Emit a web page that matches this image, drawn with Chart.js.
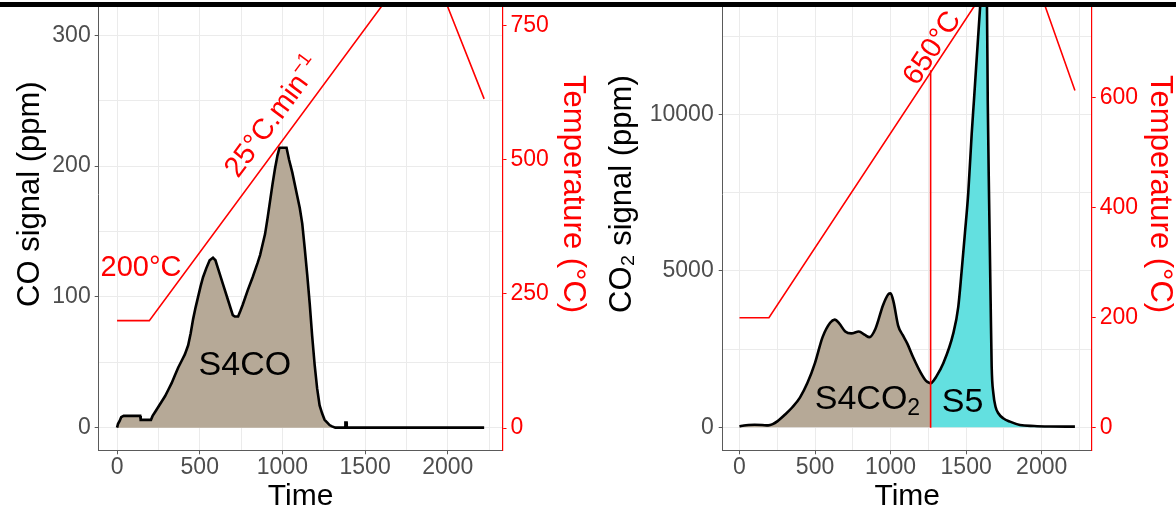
<!DOCTYPE html>
<html lang="en">
<head>
  <meta charset="UTF-8">
  <title>CO and CO2 signal vs time</title>
  <script src="https://cdn.jsdelivr.net/npm/chart.js"></script>
  <style>
    body {
      margin: 0;
      background: #fff;
      width: 1176px;
      height: 509px;
      overflow: hidden;
      position: relative;
    }
    canvas {
      position: absolute;
      top: -70px;
    }
    #left { left: 0; }
    #right { left: 590px; }
    .bar {
      position: absolute;
      left: 0;
      width: 1176px;
      z-index: 2;
    }
  </style>
</head>
<body>
  <canvas id="left" width="590" height="579"></canvas>
  <canvas id="right" width="586" height="579"></canvas>
  <div class="bar" style="top:0;height:2px;background:#fff"></div>
  <div class="bar" style="top:2px;height:5px;background:#000"></div>

  <script>
    // CO signal (ppm), left panel
    const coTime = [0, 6, 15, 25, 40, 140, 143, 205, 215, 230, 250, 270, 290, 310, 330,
      350, 370, 390, 410, 430, 445, 460, 475, 490, 505, 520, 540, 560, 580, 595, 610,
      640, 670, 700, 712, 732, 745, 760, 790, 820, 850, 865, 880, 895, 910, 925, 940,
      955, 970, 982, 1025, 1040, 1060, 1090, 1105, 1120, 1135, 1150, 1165, 1180, 1195,
      1210, 1225, 1240, 1255, 1270, 1285, 1300, 1320, 1380, 1381, 1388, 1389, 2220];
    const coPpm = [0, 3, 5, 8, 9, 9, 6, 6, 9, 12, 16, 20, 24, 29, 34,
      40, 46, 51, 56, 63, 72, 83, 92, 100, 108, 115, 122, 128, 130, 128, 122,
      110, 98, 86, 85, 85, 89, 94, 105, 115, 126, 132, 140, 148, 160, 173, 186,
      198, 208, 214, 214, 205, 195, 177, 168, 156, 137, 117, 95, 70, 48,
      30, 17, 11, 6, 4, 2, 1, 0, 0, 4, 4, 0, 0];

    // CO2 signal (ppm), right panel: S4CO2 part and S5 part
    const co2TimeA = [0, 30, 60, 100, 150, 190, 220, 250, 300, 350, 400, 450, 500, 550,
      600, 630, 660, 700, 740, 790, 830, 860, 900, 950, 985, 1000, 1020, 1050, 1080,
      1110, 1150, 1200, 1235, 1265];
    const co2PpmA = [30, 60, 75, 80, 75, 60, 100, 190, 400, 640, 950, 1420, 2060, 2880,
      3340, 3440, 3320, 3060, 3000, 3060, 2950, 2880, 3150, 3900, 4250, 4280, 4000, 3250, 2950,
      2680, 2230, 1740, 1480, 1400];
    const co2TimeB = [1265, 1272, 1300, 1349, 1415, 1448, 1470, 1492, 1514, 1537, 1552,
      1592, 1617, 1638, 1643, 1652, 1662, 1669, 1680, 1695, 1713, 1745, 1790, 1856, 1950,
      2050, 2220];
    const co2PpmB = [1400, 1420, 1600, 2045, 3000, 3850, 4970, 6200, 7480, 9390, 10460,
      13390, 15000, 13390, 10460, 7260, 4070, 1940, 1090, 650, 450, 290, 180, 75, 40,
      25, 20];

    // temperature programme (°C)
    const tempTime = [0, 195, 1774, 1905, 2220];
    const tempC = [200, 200, 858, 858, 613];
    const splitTime = 1265;
    const splitTemp = 650;

    // ticks
    const xTicks = [0, 250, 500, 750, 1000, 1250, 1500, 1750, 2000, 2250];
    const xLabels = [0, 500, 1000, 1500, 2000];
    const coTicks = [0, 50, 100, 150, 200, 250, 300, 350];
    const coLabels = [0, 100, 200, 300];
    const co2Ticks = [0, 2500, 5000, 7500, 10000, 12500, 15000];
    const co2Labels = [0, 5000, 10000, 15000];
    const tempTicksL = [0, 250, 500, 750];
    const tempTicksR = [0, 200, 400, 600, 800];

    const FONT = '"Liberation Sans", Arial, sans-serif';
    Chart.defaults.font.family = FONT;

    const brown = '#B6A997';
    const cyan = '#63E0E0';
    const grey = '#4D4D4D';
    const axisGrey = '#5A5A5A';
    const gridGrey = '#EBEBEB';

    const xy = (ts, vs) => ts.map((t, i) => ({x: t, y: vs[i]}));

    function setTicks(list) {
      return s => { s.ticks = list.map(v => ({value: v})); };
    }

    // text notes on the plot, positions in data units
    function notes(items) {
      return {
        id: 'notes',
        afterDatasetsDraw(chart) {
          const ctx = chart.ctx;
          const xs = chart.scales.x;
          const yT = chart.scales.yT;
          const ang = Math.atan2(
            yT.getPixelForValue(tempC[2]) - yT.getPixelForValue(tempC[1]),
            xs.getPixelForValue(tempTime[2]) - xs.getPixelForValue(tempTime[1]));
          for (const n of items) {
            const px = xs.getPixelForValue(n.x);
            const py = chart.scales[n.axis].getPixelForValue(n.y);
            ctx.save();
            ctx.translate(px, py);
            if (n.rotate) ctx.rotate(ang);
            let w = 0;
            for (const p of n.parts) {
              ctx.font = p.size + 'px ' + FONT;
              w += ctx.measureText(p.text).width;
            }
            const dy0 = n.middle ? n.parts[0].size * 0.36 : 0;
            let cx = -w / 2;
            ctx.fillStyle = n.color;
            ctx.textAlign = 'left';
            ctx.textBaseline = 'alphabetic';
            for (const p of n.parts) {
              ctx.font = p.size + 'px ' + FONT;
              ctx.fillText(p.text, cx, dy0 + (p.dy || 0));
              cx += ctx.measureText(p.text).width;
            }
            ctx.restore();
          }
        }
      };
    }

    function xScale(xmin, xmax) {
      return {
        type: 'linear',
        min: xmin,
        max: xmax,
        afterBuildTicks: setTicks(xTicks),
        afterFit(s) { s.height = 58.7; s.paddingLeft = 0; s.paddingRight = 0; },
        ticks: {
          autoSkip: false, maxRotation: 0, minRotation: 0, padding: 0,
          color: grey, font: {size: 23},
          callback: v => xLabels.includes(v) ? v : ''
        },
        grid: {
          color: gridGrey, lineWidth: 1, tickLength: 4,
          tickColor: c => xLabels.includes(c.tick.value) ? axisGrey : 'rgba(0,0,0,0)'
        },
        border: {display: true, color: axisGrey, width: 1},
        title: {display: true, text: 'Time', color: '#000', padding: {top: 0, bottom: -3},
          font: {size: 30, lineHeight: 1}}
      };
    }

    function leftScale(min, max, ticks, labels, width, title, pad) {
      return {
        position: 'left',
        min: min,
        max: max,
        afterBuildTicks: setTicks(ticks),
        afterFit(s) { s.width = width; s.paddingTop = 0; s.paddingBottom = 0; },
        ticks: {
          autoSkip: false, padding: pad, color: grey, font: {size: 23},
          callback: v => labels.includes(v) ? v : ''
        },
        grid: {
          color: gridGrey, lineWidth: 1, tickLength: 4,
          tickColor: c => labels.includes(c.tick.value) ? axisGrey : 'rgba(0,0,0,0)'
        },
        border: {display: true, color: axisGrey, width: 1},
        title: {display: true, text: title, color: '#000', padding: 0,
          font: {size: 31, lineHeight: 1}}
      };
    }

    function tempScale(min, max, ticks, width) {
      return {
        position: 'right',
        min: min,
        max: max,
        afterBuildTicks: setTicks(ticks),
        afterFit(s) { s.width = width; s.paddingTop = 0; s.paddingBottom = 0; },
        ticks: {autoSkip: false, padding: 4, color: '#FF0000', font: {size: 23}},
        grid: {drawOnChartArea: false, tickLength: 4, tickColor: '#FF0000'},
        border: {display: true, color: '#FF0000', width: 1.2},
        title: {display: true, text: 'Temperature (°C)', color: '#FF0000', padding: 0,
          font: {size: 31, lineHeight: 1}}
      };
    }

    const tempLine = {
      data: xy(tempTime, tempC), yAxisID: 'yT',
      borderColor: '#FF0000', borderWidth: 1.6, pointRadius: 0, fill: false, tension: 0
    };

    // Left panel: CO
    new Chart(document.getElementById('left'), {
      type: 'line',
      data: {
        datasets: [
          tempLine,
          {
            data: xy(coTime, coPpm), yAxisID: 'y',
            borderColor: '#000', borderWidth: 2.6, pointRadius: 0, tension: 0,
            borderJoinStyle: 'miter', fill: 'origin', backgroundColor: brown
          }
        ]
      },
      options: {
        responsive: false,
        animation: false,
        devicePixelRatio: 1,
        layout: {padding: {left: 15, right: 2, top: 8, bottom: 0}},
        plugins: {legend: {display: false}, tooltip: {enabled: false}},
        scales: {
          x: xScale(-111, 2331),
          y: leftScale(-17.3, 374.4, coTicks, coLabels, 83.7, 'CO signal (ppm)', 4),
          yT: tempScale(-41.5, 912.5, tempTicksL, 85.5)
        }
      },
      plugins: [notes([
        {parts: [{text: '200°C', size: 29}], x: 145, y: 303, axis: 'yT',
          color: '#FF0000', middle: true},
        {parts: [{text: '25°C.min', size: 29}, {text: '\u22121', size: 19, dy: -12}],
          x: 935, y: 581, axis: 'yT', rotate: true, color: '#FF0000', middle: true},
        {parts: [{text: 'S4CO', size: 34}], x: 773, y: 40, axis: 'y', color: '#000'}
      ])]
    });

    // Right panel: CO2
    new Chart(document.getElementById('right'), {
      type: 'line',
      data: {
        datasets: [
          tempLine,
          {
            data: [{x: splitTime, y: 0}, {x: splitTime, y: splitTemp}], yAxisID: 'yT',
            borderColor: '#FF0000', borderWidth: 1.6, pointRadius: 0, fill: false
          },
          {
            data: xy(co2TimeA, co2PpmA), yAxisID: 'y',
            borderColor: '#000', borderWidth: 2.6, pointRadius: 0,
            cubicInterpolationMode: 'monotone', tension: 0.4,
            fill: 'origin', backgroundColor: brown
          },
          {
            data: xy(co2TimeB, co2PpmB), yAxisID: 'y',
            borderColor: '#000', borderWidth: 2.6, pointRadius: 0,
            cubicInterpolationMode: 'monotone', tension: 0.4,
            fill: 'origin', backgroundColor: cyan
          }
        ]
      },
      options: {
        responsive: false,
        animation: false,
        devicePixelRatio: 1,
        layout: {padding: {left: 17, right: 1, top: 8, bottom: 0}},
        plugins: {legend: {display: false}, tooltip: {enabled: false}},
        scales: {
          x: xScale(-111, 2331),
          y: leftScale(-735, 15633, co2Ticks, co2Labels, 115.7, 'CO\u2082 signal (ppm)', 5),
          yT: tempScale(-41.1, 890.4, tempTicksR, 83.3)
        }
      },
      plugins: [notes([
        {parts: [{text: '650°C', size: 29}], x: 1265, y: 692, axis: 'yT', rotate: true,
          color: '#FF0000', middle: true},
        {parts: [{text: 'S4CO', size: 34}, {text: '2', size: 23, dy: 6}],
          x: 847, y: 575, axis: 'y', color: '#000'},
        {parts: [{text: 'S5', size: 34}], x: 1476, y: 498, axis: 'y', color: '#000'}
      ])]
    });
  </script>
</body>
</html>
